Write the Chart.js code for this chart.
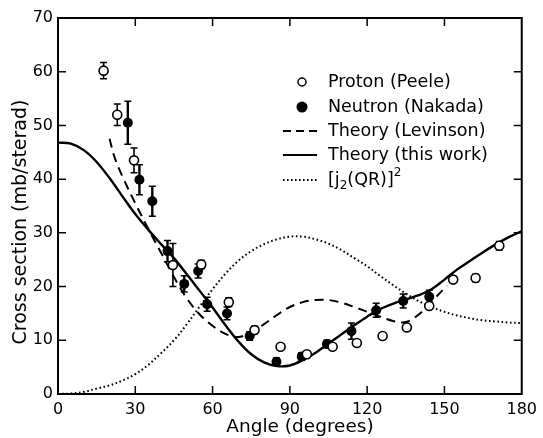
<!DOCTYPE html>
<html><head><meta charset="utf-8">
<script src="https://cdn.jsdelivr.net/npm/chart.js@4.4.0/dist/chart.umd.min.js"></script>
<style>html,body{margin:0;padding:0;background:#fff}#wrap{width:543px;height:438px;position:relative}</style>
</head><body><div id="wrap"><canvas id="c"></canvas></div>
<script>
// ---- data ----
const xTicks = [0, 30, 60, 90, 120, 150, 180];
const yTicks = [0, 10, 20, 30, 40, 50, 60, 70];

const protonAngle = [17.7, 23.0, 29.5, 44.6, 55.6, 66.3, 76.3, 86.4, 96.6, 106.6, 116.0, 126.0, 135.4, 144.1, 153.4, 162.1, 171.3];
const protonValue = [60.2, 52.0, 43.5, 24.0, 24.1, 17.1, 11.9, 8.8, 7.4, 8.8, 9.5, 10.8, 12.4, 16.4, 21.3, 21.6, 27.6];
const protonError = [1.5, 2.0, 2.3, 4.0, 0.8, 0.8, 0.7, 0, 0, 0, 0, 0, 0, 0, 0, 0.7, 0.8];

const neutronAngle = [27.1, 31.6, 36.6, 42.5, 49.0, 54.4, 57.9, 65.6, 74.4, 84.8, 94.6, 104.4, 113.9, 123.5, 134.0, 144.1];
const neutronValue = [50.5, 39.9, 35.9, 26.6, 20.5, 22.9, 16.7, 15.0, 10.8, 6.0, 7.0, 9.3, 11.7, 15.6, 17.3, 18.1];
const neutronError = [4.0, 2.8, 2.8, 2.0, 1.5, 1.3, 1.3, 1.2, 0.8, 0.7, 0.7, 0.7, 1.5, 1.3, 1.3, 1.2];

const theoryAngle = [0, 5, 10, 15, 20, 25, 30, 35, 40, 45, 50, 55, 60, 65, 70, 75, 80, 85, 90, 95, 100, 105, 110, 115, 120, 125, 130, 135, 140, 145, 150, 155, 160, 165, 170, 175, 180];
const theoryValue = [46.8, 46.6, 45.4, 43.2, 40.2, 36.8, 33.5, 30.6, 27.9, 25.3, 22.3, 19.2, 16.1, 12.8, 9.8, 7.4, 5.9, 5.2, 5.3, 6.3, 7.7, 9.4, 11.1, 12.8, 14.4, 15.8, 16.8, 17.6, 18.4, 19.5, 21.3, 23.2, 24.8, 26.4, 27.9, 29.2, 30.3];

const levinsonAngle = [20, 22, 25, 30, 35, 40, 45, 50, 55, 60, 65, 70, 75, 80, 85, 90, 95, 100, 105, 110, 115, 120, 125, 130, 135, 140, 145, 151];
const levinsonValue = [47.5, 44.0, 40.5, 35.5, 30.8, 26.3, 21.8, 17.8, 14.8, 12.7, 11.2, 10.6, 11.5, 13.0, 14.7, 16.2, 17.1, 17.5, 17.5, 17.0, 16.2, 15.3, 14.4, 13.6, 13.4, 14.8, 17.2, 20.2];

const j2Angle = [0, 5, 10, 15, 20, 25, 30, 35, 40, 45, 50, 55, 60, 65, 70, 75, 80, 85, 90, 95, 100, 105, 110, 115, 120, 125, 130, 135, 140, 145, 150, 155, 160, 165, 170, 175, 180];
const j2Value = [0, 0.1, 0.4, 1.0, 1.6, 2.5, 3.7, 5.4, 7.6, 10.0, 13.0, 16.3, 19.5, 22.4, 24.8, 26.6, 27.9, 28.8, 29.3, 29.3, 28.8, 28.0, 26.8, 25.3, 23.8, 22.0, 20.3, 18.7, 17.3, 16.2, 15.3, 14.6, 14.1, 13.7, 13.5, 13.3, 13.2];

const seriesNames = ['Proton (Peele)', 'Neutron (Nakada)', 'Theory (Levinson)', 'Theory (this work)'];
const xTitle = 'Angle (degrees)';
const yTitle = 'Cross section (mb/sterad)';

// ---- build ----
const pts = (xs, ys) => xs.map((x, i) => ({x, y: ys[i]}));
const FONT = '"DejaVu Sans", sans-serif';

const decor = {
  id: 'decor',
  beforeDatasetsDraw(chart) {
    const {ctx, scales: {x, y}} = chart;
    ctx.save();
    ctx.strokeStyle = '#000';
    chart.data.datasets.forEach(ds => {
      if (!ds.errors) return;
      ds.data.forEach((p, i) => {
        const e = ds.errors[i];
        if (!e) return;
        const px = x.getPixelForValue(p.x);
        const y1 = y.getPixelForValue(p.y + e), y2 = y.getPixelForValue(p.y - e);
        ctx.lineWidth = ds.errWidth;
        ctx.beginPath();
        ctx.moveTo(px, y1); ctx.lineTo(px, y2);
        ctx.stroke();
        ctx.lineWidth = 1.5;
        ctx.beginPath();
        ctx.moveTo(px - 3.5, y1); ctx.lineTo(px + 3.5, y1);
        ctx.moveTo(px - 3.5, y2); ctx.lineTo(px + 3.5, y2);
        ctx.stroke();
      });
    });
    ctx.restore();
  },
  afterDraw(chart) {
    const {ctx, chartArea: a, scales: {x, y}} = chart;
    ctx.save();
    ctx.strokeStyle = '#000';
    ctx.lineWidth = 2;
    ctx.strokeRect(a.left, a.top, a.right - a.left, a.bottom - a.top);
    ctx.lineWidth = 1.5;
    ctx.beginPath();
    xTicks.forEach(v => {
      const px = x.getPixelForValue(v);
      if (v !== 0 && v !== 180) {
        ctx.moveTo(px, a.bottom); ctx.lineTo(px, a.bottom - 8);
        ctx.moveTo(px, a.top); ctx.lineTo(px, a.top + 8);
      }
    });
    yTicks.forEach(v => {
      const py = y.getPixelForValue(v);
      if (v !== 0 && v !== 70) {
        ctx.moveTo(a.left, py); ctx.lineTo(a.left + 8, py);
        ctx.moveTo(a.right, py); ctx.lineTo(a.right - 8, py);
      }
    });
    ctx.stroke();

    // axis titles
    ctx.fillStyle = '#000';
    ctx.font = '18.5px ' + FONT;
    ctx.textAlign = 'center';
    ctx.textBaseline = 'middle';
    ctx.fillText(xTitle, 300, 427);
    ctx.save();
    ctx.translate(21, 222);
    ctx.rotate(-Math.PI / 2);
    ctx.font = '19px ' + FONT;
    ctx.fillText(yTitle, 0, 0);
    ctx.restore();

    // legend
    const lx0 = 283, lx1 = 317, tx = 328;
    const rows = [82, 107, 131, 155, 180];
    const LF = '17.5px ' + FONT;
    ctx.font = LF;
    ctx.textAlign = 'left';
    ctx.textBaseline = 'middle';
    // proton
    ctx.lineWidth = 1.5;
    ctx.beginPath(); ctx.arc(302, rows[0], 4, 0, Math.PI * 2);
    ctx.fillStyle = '#fff'; ctx.fill(); ctx.stroke();
    ctx.fillStyle = '#000';
    ctx.fillText(seriesNames[0], tx, rows[0]);
    // neutron
    ctx.beginPath(); ctx.arc(302, rows[1], 5.5, 0, Math.PI * 2); ctx.fill();
    ctx.fillText(seriesNames[1], tx, rows[1]);
    // dashed
    ctx.lineWidth = 2;
    ctx.setLineDash([8, 5]);
    ctx.beginPath(); ctx.moveTo(lx0, rows[2]); ctx.lineTo(lx1, rows[2]); ctx.stroke();
    ctx.fillText(seriesNames[2], tx, rows[2]);
    // solid
    ctx.setLineDash([]);
    ctx.lineWidth = 2.2;
    ctx.beginPath(); ctx.moveTo(lx0, rows[3]); ctx.lineTo(lx1, rows[3]); ctx.stroke();
    ctx.fillText(seriesNames[3], tx, rows[3]);
    // dotted
    ctx.lineWidth = 1.8;
    ctx.setLineDash([1.6, 2.4]);
    ctx.beginPath(); ctx.moveTo(lx0, rows[4]); ctx.lineTo(lx1, rows[4]); ctx.stroke();
    ctx.setLineDash([]);
    let cx = tx;
    const piece = (t, f, dy) => { ctx.font = f; ctx.fillText(t, cx, rows[4] + dy); cx += ctx.measureText(t).width; };
    piece('[j', LF, 0);
    piece('2', '12px ' + FONT, 6);
    piece('(QR)]', LF, 0);
    piece('2', '12px ' + FONT, -7);
    ctx.restore();
  }
};

new Chart(document.getElementById('c'), {
  type: 'scatter',
  data: {
    datasets: [
      {label: seriesNames[0], data: pts(protonAngle, protonValue), errors: protonError, errWidth: 1.6,
       pointRadius: 4.5, pointBackgroundColor: '#fff', pointBorderColor: '#000', pointBorderWidth: 1.6, showLine: false},
      {label: seriesNames[1], data: pts(neutronAngle, neutronValue), errors: neutronError, errWidth: 2.4,
       pointRadius: 5, pointBackgroundColor: '#000', pointBorderColor: '#000', pointBorderWidth: 0, showLine: false},
      {label: seriesNames[2], data: pts(levinsonAngle, levinsonValue), showLine: true, pointRadius: 0,
       borderColor: '#000', borderWidth: 2, borderDash: [9, 6], tension: 0.35, fill: false},
      {label: seriesNames[3], data: pts(theoryAngle, theoryValue), showLine: true, pointRadius: 0,
       borderColor: '#000', borderWidth: 2.4, tension: 0.35, fill: false},
      {label: '[j2(QR)]^2', data: pts(j2Angle, j2Value), showLine: true, pointRadius: 0,
       borderColor: '#000', borderWidth: 2, borderDash: [1.6, 2.6], tension: 0.35, fill: false}
    ]
  },
  options: {
    responsive: true, maintainAspectRatio: false, animation: false, devicePixelRatio: 1,
    layout: {padding: {top: 18, right: 6, left: 0, bottom: 0}},
    plugins: {legend: {display: false}, tooltip: {enabled: false}},
    scales: {
      x: {type: 'linear', min: 0, max: 180,
          afterBuildTicks: s => { s.ticks = xTicks.map(v => ({value: v})); },
          afterFit: s => { s.height = 44; },
          grid: {display: false, drawTicks: false}, border: {display: false},
          ticks: {color: '#000', font: {size: 16, family: FONT}, padding: 6}},
      y: {type: 'linear', min: 0, max: 70,
          afterBuildTicks: s => { s.ticks = yTicks.map(v => ({value: v})); },
          afterFit: s => { s.width = 58; },
          grid: {display: false, drawTicks: false}, border: {display: false},
          ticks: {color: '#000', font: {size: 16, family: FONT}, padding: 5}}
    }
  },
  plugins: [decor]
});
</script></body></html>
